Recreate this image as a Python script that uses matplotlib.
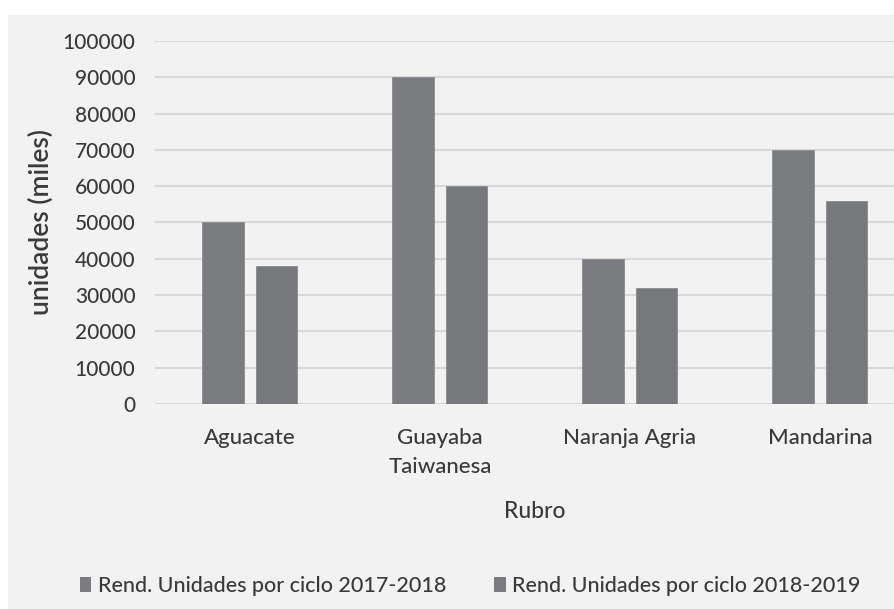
import numpy as np
import matplotlib
matplotlib.use('Agg')
import matplotlib.pyplot as plt
from matplotlib.patches import Rectangle, Patch

# datos
categorias = ['Aguacate', 'Guayaba\nTaiwanesa', 'Naranja Agria', 'Mandarina']
ciclo_2017_2018 = [50000, 90000, 40000, 70000]
ciclo_2018_2019 = [38000, 60000, 32000, 56000]
etiquetas = ['Rend. Unidades por ciclo 2017-2018', 'Rend. Unidades por ciclo 2018-2019']
y_ticks = np.arange(0, 100001, 10000)

plt.rcParams['font.family'] = ['Lato', 'DejaVu Sans']
txt_color = '#3a3a3a'

fig = plt.figure(figsize=(8.94, 6.09), dpi=100)
fig.patch.set_facecolor('white')
# fondo gris del area del grafico
fig.add_artist(Rectangle((8 / 894, 0), 1, 1 - 15 / 609, transform=fig.transFigure,
                         facecolor='#f2f2f2', edgecolor='none', zorder=0))

ax = fig.add_axes([155 / 894, 1 - 404 / 609, 1 - 155 / 894, (404 - 41) / 609])
ax.set_facecolor('none')

x = np.arange(len(categorias))
ancho = 0.22
color_barra = '#7b7c80'
ax.bar(x - 0.14, ciclo_2017_2018, width=ancho, color=color_barra, edgecolor='#8a8b8f', linewidth=0.6, zorder=3)
ax.bar(x + 0.14, ciclo_2018_2019, width=ancho, color='#77787c', edgecolor='#8a8b8f', linewidth=0.6, zorder=3)

ax.set_xlim(-0.5, 3.39)
ax.set_ylim(0, 100000)
ax.set_yticks(y_ticks)
ax.set_yticklabels([str(v) for v in y_ticks], fontsize=15, color=txt_color, fontweight='medium')
ax.set_xticks(x)
ax.set_xticklabels(categorias, fontsize=16, color=txt_color, linespacing=1.6, fontweight='medium')
ax.tick_params(axis='y', length=0, pad=14)
ax.tick_params(axis='x', length=0, pad=17)
ax.grid(axis='y', color='#d9d9d9', linewidth=1.5, zorder=0)
for s in ax.spines.values():
    s.set_visible(False)

fig.text(41 / 894, 1 - 222 / 609, 'unidades (miles)', rotation=90, ha='center', va='center',
         fontsize=19, color=txt_color, fontweight='semibold')
fig.text(535 / 894, 1 - 512 / 609, 'Rubro', ha='center', va='center', fontsize=16.5,
         color=txt_color, fontweight='medium')

handles = [Patch(facecolor=color_barra, edgecolor='none'), Patch(facecolor=color_barra, edgecolor='none')]
fig.legend(handles, etiquetas, loc='center', bbox_to_anchor=(470 / 894, 1 - 586 / 609), ncol=2,
           frameon=False, handlelength=0.55, handleheight=0.7, handletextpad=0.3,
           columnspacing=2.2, labelcolor=txt_color,
           prop={'size': 15.5, 'weight': 'medium'})

fig.savefig('out.png', dpi=100)
